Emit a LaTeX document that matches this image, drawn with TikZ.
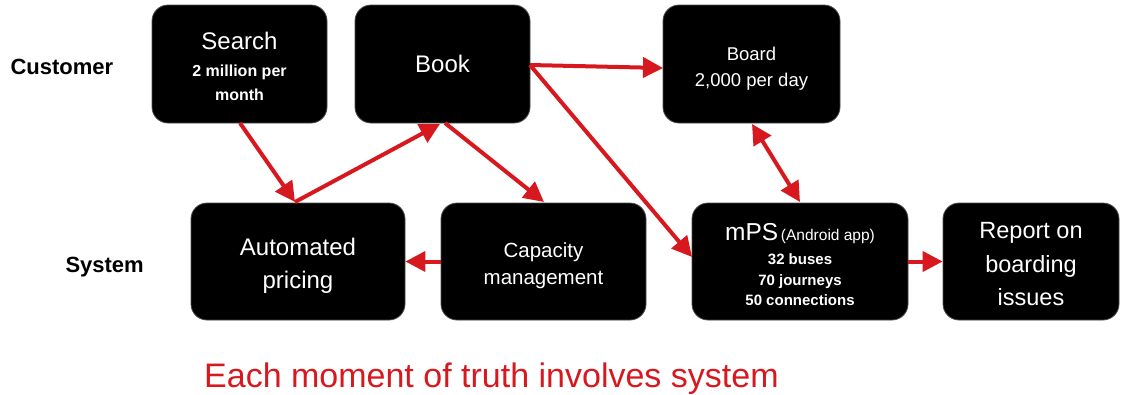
\documentclass[tikz,border=0pt]{standalone}
\usepackage{fontspec}
\setmainfont{Liberation Sans}
\usetikzlibrary{arrows.meta}
\definecolor{arrred}{HTML}{D7191F}
\begin{document}
\begin{tikzpicture}[x=1pt,y=-1pt,
  box/.style={draw=black!70,line width=0.8pt,fill=black,rounded corners=16pt,text=white,align=center,inner sep=0pt},
  wt/.style={text=white,anchor=base,inner sep=0pt},
  conn/.style={draw=arrred,line width=4pt,-{Triangle[length=20pt,width=20pt]}},
  both/.style={draw=arrred,line width=4pt,{Triangle[length=20pt,width=20pt]}-{Triangle[length=20pt,width=20pt]}},
  lab/.style={font=\bfseries\fontsize{22}{24}\selectfont,anchor=west}]
\useasboundingbox (0,0) rectangle (1123,394);
% customer row
\node[box,minimum width=175pt,minimum height=118pt] (search) at (239.5,64) {};
\node[wt,font=\fontsize{24}{28}\selectfont] (s1) at (239.5,49) {Search};
\node[wt,font=\bfseries\fontsize{16}{20}\selectfont] (s2) at (239.5,76) {2 million per};
\node[wt,font=\bfseries\fontsize{16}{20}\selectfont] (s3) at (239.5,100) {month};
\node[box,minimum width=175pt,minimum height=118pt,font=\fontsize{24}{28}\selectfont] (book) at (442.5,64) {Book};
\node[box,minimum width=177pt,minimum height=118pt] (board) at (751.5,64) {};
\node[wt,font=\fontsize{18.5}{22}\selectfont] (b1) at (751.5,60) {Board};
\node[wt,font=\fontsize{18.5}{22}\selectfont] (b2) at (751.5,86) {2,000 per day};
% system row
\node[box,minimum width=214pt,minimum height=117pt] (auto) at (298,261.5) {};
\node[wt,font=\fontsize{24}{28}\selectfont] (a1) at (298,255) {Automated};
\node[wt,font=\fontsize{24}{28}\selectfont] (a2) at (298,288) {pricing};
\node[box,minimum width=205pt,minimum height=117pt] (cap) at (543.5,261.5) {};
\node[wt,font=\fontsize{20.5}{24}\selectfont] (c1) at (543.5,257) {Capacity};
\node[wt,font=\fontsize{20.5}{24}\selectfont] (c2) at (543.5,284) {management};
\node[box,minimum width=216pt,minimum height=117pt] (mps) at (800,261.5) {};
\node[wt] (m1) at (800,240) {{\fontsize{24.5}{28}\selectfont mPS} {\fontsize{15.5}{18}\selectfont (Android app)}};
\node[wt,font=\bfseries\fontsize{15}{18}\selectfont] (m2) at (800,264) {32 buses};
\node[wt,font=\bfseries\fontsize{15}{18}\selectfont] (m3) at (800,285) {70 journeys};
\node[wt,font=\bfseries\fontsize{15}{18}\selectfont] (m4) at (800,305) {50 connections};
\node[box,minimum width=176pt,minimum height=117pt] (rep) at (1031,261.5) {};
\node[wt,font=\fontsize{23.5}{28}\selectfont] (r1) at (1031,238) {Report on};
\node[wt,font=\fontsize{23.5}{28}\selectfont] (r2) at (1031,272) {boarding};
\node[wt,font=\fontsize{23.5}{28}\selectfont] (r3) at (1031,305) {issues};
% side labels
\node[lab] (cust) at (7,67) {Customer};
\node[lab] (sys) at (62,267) {System};
\node[text=arrred,font=\fontsize{34}{38}\selectfont,anchor=base west,inner sep=0pt] (moment) at (204,387) {Each moment of truth involves system};
% connectors
\coordinate (ap) at (295,202);
\draw[conn] (240,123) -- (ap);
\draw[conn] (ap) -- (440,124);
\draw[conn] (445,123) -- (544,202);
\draw[conn] (530,65) -- (663,68);
\draw[conn] (530,65) -- (692,257);
\draw[both] (752,124) -- (800,202);
\draw[conn] (cap.west) -- (auto.east);
\draw[conn] (mps.east) -- (rep.west);
\end{tikzpicture}
\end{document}
